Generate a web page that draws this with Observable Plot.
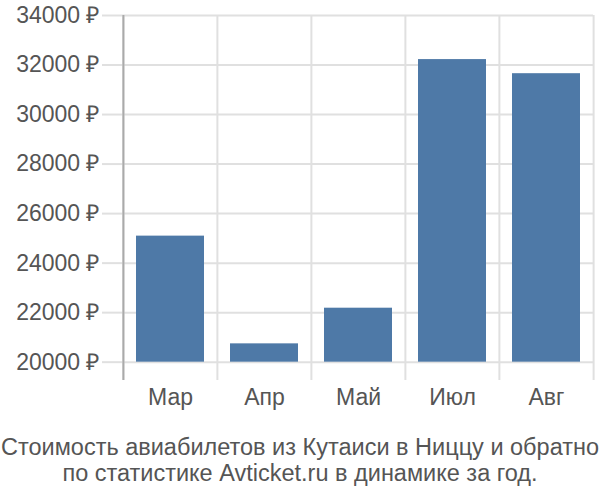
<!DOCTYPE html>
<html>
<head>
<meta charset="utf-8">
<script src="https://cdn.jsdelivr.net/npm/d3@7"></script>
<script src="https://cdn.jsdelivr.net/npm/@observablehq/plot@0.6"></script>
<style>
  html, body { margin: 0; padding: 0; background: #fff; }
  body { width: 600px; font-family: "Liberation Sans", Arial, sans-serif; }
  #caption { text-align: center; color: #555; font-size: 23.5px; line-height: 26px; margin-top: 14px; white-space: nowrap; }
</style>
</head>
<body>
<div id="chart"></div>
<div id="caption">Стоимость авиабилетов из Кутаиси в Ниццу и обратно<br>по статистике Avticket.ru в динамике за год.</div>
<script>
const months = ["Мар", "Апр", "Май", "Июл", "Авг"];
const prices = [25090, 20740, 22180, 32220, 31650];
const yTicks = [20000, 22000, 24000, 26000, 28000, 30000, 32000, 34000];

const data = months.map((m, i) => ({month: m, price: prices[i]}));
const marginLeft = 122, marginRight = 7, width = 600;
const step = (width - marginLeft - marginRight) / months.length;

const chart = Plot.plot({
  width: width,
  height: 420,
  marginLeft: marginLeft,
  marginRight: marginRight,
  marginTop: 15,
  marginBottom: 40,
  style: {fontFamily: "Liberation Sans, Arial, sans-serif", fontSize: "23px", color: "#555", background: "#fff"},
  x: {domain: months, padding: 0, label: null},
  y: {domain: [19260, 34000], label: null},
  marks: [
    Plot.ruleY(yTicks, {stroke: "#e0e0e0", strokeWidth: 2}),
    Plot.ruleX(months, {x: d => d, dx: -step / 2, stroke: "#e0e0e0", strokeWidth: 2}),
    Plot.ruleX([months[months.length - 1]], {x: d => d, dx: step / 2, stroke: "#e0e0e0", strokeWidth: 2}),
    Plot.ruleX([months[0]], {x: d => d, dx: -step / 2, stroke: "#aaa", strokeWidth: 2}),
    Plot.barY(data, {x: "month", y1: 20000, y2: "price", fill: "#4e79a7", insetLeft: 13, insetRight: 13}),
    Plot.axisY({ticks: yTicks, tickFormat: d => d + " ₽", tickSize: 20, tickPadding: 3, stroke: "#e0e0e0", strokeWidth: 2, fill: "#555", fontSize: 23}),
    Plot.axisX({tickSize: 0, tickPadding: 8, fill: "#555", fontSize: 23})
  ]
});
document.getElementById("chart").appendChild(chart);
</script>
</body>
</html>
